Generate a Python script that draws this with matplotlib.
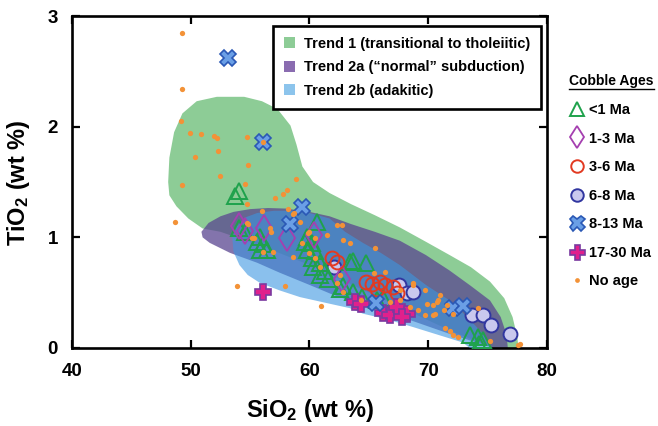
import matplotlib
matplotlib.use("Agg")
import matplotlib.pyplot as plt
from matplotlib.patches import Polygon, Patch
from matplotlib.lines import Line2D

plt.rcParams["font.family"] = ["Liberation Sans", "DejaVu Sans"]
plt.rcParams["font.weight"] = "bold"
plt.rcParams["mathtext.fontset"] = "custom"
plt.rcParams["mathtext.rm"] = "Liberation Sans:bold"
plt.rcParams["mathtext.default"] = "rm"

# ---- trend fields (SiO2, TiO2) ----
trend1_outline = [
    (50.5, 2.23), (52.2, 2.27), (54.5, 2.27), (56.0, 2.23), (57.3, 2.16),
    (58.4, 2.01), (58.9, 1.84), (59.4, 1.64), (60.3, 1.50), (61.7, 1.40),
    (63.5, 1.30), (65.5, 1.20), (67.6, 1.09), (69.8, 0.96), (71.8, 0.84),
    (73.6, 0.73), (75.2, 0.60), (76.4, 0.45), (77.1, 0.28), (77.5, 0.10),
    (77.6, 0.00), (75.5, 0.00), (72.0, 0.15), (68.0, 0.35), (64.0, 0.55),
    (60.0, 0.75), (56.0, 0.92), (52.5, 1.05), (51.0, 1.08), (49.8, 1.17),
    (48.8, 1.28), (48.2, 1.38), (48.1, 1.50), (48.2, 1.72), (48.6, 1.95),
    (49.3, 2.12),
]
trend2a_outline = [
    (50.9, 1.05), (51.5, 1.13), (52.5, 1.19), (53.6, 1.23), (55.0, 1.255),
    (56.5, 1.265), (58.0, 1.26), (60.0, 1.23), (61.7, 1.19), (63.5, 1.12),
    (65.5, 1.05), (67.6, 0.97), (69.8, 0.84), (71.8, 0.70), (73.6, 0.56),
    (75.2, 0.43), (76.1, 0.28), (76.6, 0.12), (76.7, 0.00), (75.5, 0.00),
    (72.0, 0.12), (68.0, 0.27), (65.0, 0.37), (62.0, 0.48), (60.0, 0.57),
    (57.5, 0.68), (55.6, 0.77), (53.3, 0.86), (51.6, 0.95), (51.0, 1.00),
]
trend2b_outline = [
    (53.5, 1.00), (53.9, 1.10), (54.6, 1.18), (55.6, 1.22), (57.0, 1.24),
    (58.5, 1.24), (60.0, 1.22), (61.7, 1.17), (63.0, 1.05), (64.5, 0.95),
    (66.0, 0.86), (67.6, 0.75), (69.8, 0.57), (71.8, 0.43), (73.3, 0.28),
    (74.5, 0.14), (75.2, 0.03), (75.2, 0.00), (73.5, 0.00), (72.9, 0.05),
    (70.5, 0.13), (68.7, 0.19), (66.5, 0.26), (64.5, 0.31), (63.4, 0.36),
    (61.7, 0.40), (59.2, 0.46), (57.5, 0.52), (55.8, 0.59), (54.8, 0.66),
    (54.1, 0.75), (53.6, 0.87),
]

# ---- cobble samples ----
lt1_sio2 = [53.7, 54.1, 54.1, 54.6, 55.6, 55.8, 56.1, 56.4, 55.8, 59.6, 59.8, 60.2,
            60.6, 59.8, 60.2, 60.3, 60.9, 60.9, 61.3, 63.4, 63.7, 64.8, 62.6, 62.8,
            63.7, 64.4, 65.7, 66.2, 73.5, 74.2, 74.6, 74.3, 60.5, 61.6]
lt1_tio2 = [1.37, 1.42, 1.08, 1.05, 0.96, 1.00, 0.94, 0.89, 0.89, 0.96, 1.00, 0.95,
            1.14, 0.89, 0.81, 0.73, 0.77, 0.66, 0.70, 0.78, 0.79, 0.77, 0.53, 0.56,
            0.51, 0.46, 0.43, 0.45, 0.12, 0.10, 0.07, 0.04, 0.88, 0.62]

ma1_3_sio2 = [54.1, 54.6, 56.2, 58.1, 60.4, 62.7]
ma1_3_tio2 = [1.10, 1.06, 1.08, 0.99, 1.02, 0.62]

ma3_6_sio2 = [61.9, 62.3, 64.8, 65.3, 65.9, 66.4, 65.7, 67.0, 67.4]
ma3_6_tio2 = [0.81, 0.78, 0.60, 0.58, 0.60, 0.57, 0.53, 0.55, 0.50]

ma6_8_sio2 = [62.1, 67.5, 68.2, 68.7, 73.7, 74.6, 75.3, 76.9]
ma6_8_tio2 = [0.73, 0.57, 0.50, 0.51, 0.30, 0.30, 0.21, 0.13]

ma8_13_sio2 = [53.1, 56.1, 59.4, 58.4, 72.1, 72.9, 65.6]
ma8_13_tio2 = [2.62, 1.86, 1.27, 1.12, 0.36, 0.38, 0.41]

ma17_30_sio2 = [56.1, 63.8, 64.3, 66.2, 66.8, 67.4, 68.2, 67.8]
ma17_30_tio2 = [0.51, 0.42, 0.40, 0.32, 0.30, 0.37, 0.31, 0.28]

noage_sio2 = [49.3, 49.3, 49.2, 49.9, 50.9, 52.0, 52.2, 54.7, 50.4, 52.3, 54.8, 49.3,
              52.5, 54.6, 54.7, 56.1, 58.9, 57.1, 57.8, 58.1, 56.0, 58.2, 58.7, 48.7,
              62.3, 53.9, 57.9, 61.0, 54.8, 56.7, 56.8, 55.3, 56.1, 56.9, 58.6, 58.6,
              59.2, 59.4, 60.0, 60.5, 60.5, 60.9, 62.7, 63.4, 62.8, 65.5, 66.4, 65.4,
              69.7, 71.0, 69.1, 69.7, 70.6, 72.1, 71.4, 71.8, 72.1, 72.5, 74.2, 75.2,
              77.7, 77.6, 68.7, 69.9, 70.7, 71.6, 60.0, 62.6, 62.3, 62.8, 64.3, 66.8,
              67.6, 67.6, 68.5, 68.7, 70.8, 70.4, 71.3, 70.4, 61.5, 59.9, 54.7, 55.2]
noage_tio2 = [2.85, 2.34, 2.05, 1.94, 1.93, 1.92, 1.90, 1.91, 1.73, 1.78, 1.65, 1.47,
              1.55, 1.48, 1.30, 1.86, 1.53, 1.36, 1.39, 1.43, 1.24, 1.26, 1.22, 1.14,
              1.11, 0.56, 0.56, 0.38, 1.12, 1.08, 1.05, 0.99, 0.87, 0.87, 0.82, 1.21,
              1.14, 0.95, 1.05, 0.99, 0.81, 0.73, 1.11, 0.95, 0.98, 0.90, 0.69, 0.68,
              0.52, 0.48, 0.34, 0.30, 0.31, 0.31, 0.18, 0.15, 0.12, 0.10, 0.36, 0.06,
              0.04, 0.03, 0.57, 0.40, 0.42, 0.39, 0.86, 0.66, 0.59, 0.51, 0.43, 0.42,
              0.52, 0.43, 0.37, 0.59, 0.43, 0.39, 0.34, 0.30, 1.02, 1.04, 1.13, 0.99]

trend_labels = ["Trend 1 (transitional to tholeiitic)",
                "Trend 2a (\u201cnormal\u201d subduction)",
                "Trend 2b (adakitic)"]
age_labels = ["<1 Ma", "1-3 Ma", "3-6 Ma", "6-8 Ma", "8-13 Ma", "17-30 Ma", "No age"]

green_fill = "#8dcc96"
purple_fill = "#5a4690"
blue_fill = "#3c96e1"

fig = plt.figure(figsize=(6.58, 4.26), dpi=100)
ax = fig.add_axes([0.1094, 0.1831, 0.7219, 0.7793])

ax.add_patch(Polygon(trend1_outline, closed=True, facecolor=green_fill, edgecolor="none", zorder=1))
ax.add_patch(Polygon(trend2a_outline, closed=True, facecolor=purple_fill, alpha=0.75, edgecolor="none", zorder=2))
ax.add_patch(Polygon(trend2b_outline, closed=True, facecolor=blue_fill, alpha=0.6, edgecolor="none", zorder=3))

sty_lt1 = dict(marker="^", markersize=11, markerfacecolor="none", markeredgecolor="#1fa24c", markeredgewidth=1.4, linestyle="none")
sty_13 = dict(marker="d", markersize=13, markerfacecolor="none", markeredgecolor="#a53fb0", markeredgewidth=1.3, linestyle="none")
sty_36 = dict(marker="o", markersize=10, markerfacecolor="none", markeredgecolor="#e23a22", markeredgewidth=1.4, linestyle="none")
sty_68 = dict(marker="o", markersize=10, markerfacecolor="#c9c8ee", markeredgecolor="#3136a0", markeredgewidth=1.4, linestyle="none")
sty_813 = dict(marker="X", markersize=12, markerfacecolor="#6a9fe6", markeredgecolor="#2a58b5", markeredgewidth=1.2, linestyle="none")
sty_1730 = dict(marker="P", markersize=12, markerfacecolor="#e0208c", markeredgecolor="#7a3aa0", markeredgewidth=1.2, linestyle="none")
sty_na = dict(marker="o", markersize=3.8, markerfacecolor="#f39237", markeredgecolor="none", linestyle="none")

ax.plot(ma6_8_sio2, ma6_8_tio2, zorder=4, **sty_68)
ax.plot(lt1_sio2, lt1_tio2, zorder=5, **sty_lt1)
ax.plot(ma1_3_sio2, ma1_3_tio2, zorder=5, **sty_13)
ax.plot(ma3_6_sio2, ma3_6_tio2, zorder=6, **sty_36)
ax.plot(ma17_30_sio2, ma17_30_tio2, zorder=6, **sty_1730)
ax.plot(ma8_13_sio2, ma8_13_tio2, zorder=7, **sty_813)
ax.plot(noage_sio2, noage_tio2, zorder=8, **sty_na)

ax.set_xlim(40, 80)
ax.set_ylim(0, 3)
ax.set_xticks([40, 50, 60, 70, 80])
ax.set_yticks([0, 1, 2, 3])
for s in ax.spines.values():
    s.set_linewidth(1.9)
ax.tick_params(direction="in", length=6, width=1.6, top=True, right=True,
               labelsize=13.5)
ax.tick_params(axis="x", pad=11)
ax.tick_params(axis="y", pad=10)

ax.set_xlabel("SiO$_2$ (wt %)", fontsize=17, fontweight="bold", va="top")
ax.set_ylabel("TiO$_2$ (wt %)", fontsize=17, fontweight="bold")
ax.xaxis.set_label_coords(0.5, -0.148)
ax.yaxis.set_label_coords(-0.084, 0.497)

# trend legend inside the axes
trend_handles = [Patch(facecolor=green_fill, edgecolor="none"),
                 Patch(facecolor="#8a6cb0", edgecolor="none"),
                 Patch(facecolor="#8cc4ec", edgecolor="none")]
leg1 = ax.legend(trend_handles, trend_labels, loc="upper right",
                 bbox_to_anchor=(0.988, 0.970), borderaxespad=0, fancybox=False,
                 framealpha=1, edgecolor="black", fontsize=10.5,
                 handlelength=0.8, handleheight=0.8, handletextpad=0.6,
                 labelspacing=0.65, borderpad=0.75)
leg1.get_frame().set_linewidth(1.9)
leg1.set_zorder(10)

# cobble age legend outside the axes
age_handles = [Line2D([], [], **sty_lt1), Line2D([], [], **sty_13),
               Line2D([], [], **sty_36), Line2D([], [], **sty_68),
               Line2D([], [], **sty_813), Line2D([], [], **sty_1730),
               Line2D([], [], **sty_na)]
leg2 = fig.legend(age_handles, age_labels, loc="upper left",
                  bbox_to_anchor=(0.852, 0.846), frameon=False, fontsize=10.5,
                  title="Cobble Ages", title_fontproperties={"weight": "bold", "size": 10},
                  alignment="left", handlelength=1.0, handletextpad=0.35,
                  labelspacing=1.0, borderpad=0.1, markerscale=0.9)

fig.canvas.draw()
tb = leg2.get_title().get_window_extent()
inv = fig.transFigure.inverted()
(x0, y0), (x1, y1) = inv.transform([(tb.x0, tb.y0), (tb.x1, tb.y1)])
fig.add_artist(Line2D([x0, x1], [y0 - 0.002, y0 - 0.002], color="black", linewidth=1.0,
                      transform=fig.transFigure))

fig.savefig("out.png", dpi=100)
